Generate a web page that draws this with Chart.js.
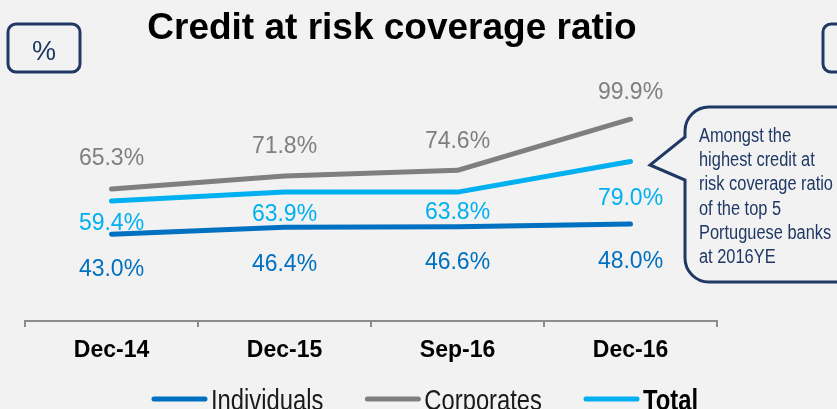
<!DOCTYPE html>
<html>
<head>
<meta charset="utf-8">
<title>Credit at risk coverage ratio</title>
<script src="https://cdn.jsdelivr.net/npm/chart.js@4.4.1/dist/chart.umd.min.js"></script>
<style>
  html, body { margin: 0; padding: 0; background: #f2f2f2; }
  #wrap { width: 837px; height: 409px; }
</style>
</head>
<body>
<div id="wrap"><canvas id="ratioChart" width="837" height="409"></canvas></div>
<script>
const periods = ['Dec-14', 'Dec-15', 'Sep-16', 'Dec-16'];
const individuals = [43.0, 46.4, 46.6, 48.0];
const corporates = [65.3, 71.8, 74.6, 99.9];
const total = [59.4, 63.9, 63.8, 79.0];
const noteLines = ['Amongst the', 'highest credit at', 'risk coverage ratio', 'of the top 5', 'Portuguese banks', 'at 2016YE'];

const NAVY = '#1f3864';
const FONT = "'Liberation Sans', Arial, sans-serif";

// how far each value label sits from its point (negative = above the line)
const labelShift = {
  Individuals: [36, 37, 36, 38],
  Corporates: [-30, -29, -29, -27],
  Total: [23, 23, 21, 37]
};

// Arial Narrow look-alike: squeeze regular text horizontally
function narrowText(ctx, text, x, y, squeeze) {
  ctx.save();
  ctx.translate(x, y);
  ctx.scale(squeeze, 1);
  ctx.fillText(text, 0, 0);
  ctx.restore();
  return ctx.measureText(text).width * squeeze;
}

function roundBox(ctx, x, y, w, h, r) {
  ctx.beginPath();
  ctx.moveTo(x + r, y);
  ctx.arcTo(x + w, y, x + w, y + h, r);
  ctx.arcTo(x + w, y + h, x, y + h, r);
  ctx.arcTo(x, y + h, x, y, r);
  ctx.arcTo(x, y, x + w, y, r);
  ctx.closePath();
  ctx.stroke();
}

const valueLabels = {
  id: 'valueLabels',
  afterDatasetsDraw(chart) {
    const ctx = chart.ctx;
    ctx.save();
    ctx.font = '23px ' + FONT;
    ctx.textAlign = 'center';
    ctx.textBaseline = 'middle';
    chart.data.datasets.forEach((ds, i) => {
      const meta = chart.getDatasetMeta(i);
      ctx.fillStyle = ds.borderColor;
      meta.data.forEach((pt, j) => {
        ctx.fillText(ds.data[j].toFixed(1) + '%', pt.x, pt.y + labelShift[ds.label][j]);
      });
    });
    ctx.restore();
  }
};

const decorations = {
  id: 'decorations',
  beforeDraw(chart) {
    const ctx = chart.ctx;
    ctx.save();
    ctx.fillStyle = '#f2f2f2';
    ctx.fillRect(0, 0, chart.width, chart.height);
    ctx.restore();
  },
  afterDraw(chart) {
    const ctx = chart.ctx;
    ctx.save();

    // title
    ctx.fillStyle = '#000';
    ctx.font = 'bold 37px ' + FONT;
    ctx.textAlign = 'center';
    ctx.textBaseline = 'alphabetic';
    ctx.fillText('Credit at risk coverage ratio', 392, 39);

    // unit box and the box cut off at the right edge
    ctx.strokeStyle = NAVY;
    ctx.lineWidth = 3;
    roundBox(ctx, 8, 24, 72, 48, 8);
    roundBox(ctx, 823, 24, 60, 48, 8);
    ctx.fillStyle = NAVY;
    ctx.font = '27px ' + FONT;
    ctx.fillText('%', 44, 60);

    // speech bubble
    const l = 685, t = 107, b = 282, r = 24, far = 870;
    ctx.beginPath();
    ctx.moveTo(l + r, t);
    ctx.lineTo(far, t);
    ctx.lineTo(far, b);
    ctx.lineTo(l + r, b);
    ctx.arcTo(l, b, l, b - r, r);
    ctx.lineTo(l, 180);
    ctx.lineTo(650, 165);
    ctx.lineTo(l, 137);
    ctx.lineTo(l, t + r);
    ctx.arcTo(l, t, l + r, t, r);
    ctx.stroke();

    ctx.font = '20px ' + FONT;
    ctx.textAlign = 'left';
    noteLines.forEach((line, i) => {
      narrowText(ctx, line, 699, 142 + i * 24.2, 0.82);
    });

    // legend, centred under the plot
    const items = chart.data.datasets.map(ds => ({
      text: ds.label,
      color: ds.borderColor,
      bold: ds.label === 'Total'
    }));
    const sq = 0.82, swatch = 55, gap = 4, spacing = 42;
    const widths = items.map(it => {
      ctx.font = (it.bold ? 'bold ' : '') + '29px ' + FONT;
      return ctx.measureText(it.text).width * sq;
    });
    let totalW = widths.reduce((a, w) => a + w + swatch + gap, 0) + spacing * (items.length - 1);
    let x = 425 - totalW / 2;
    const ly = 399;
    items.forEach((it, i) => {
      ctx.strokeStyle = it.color;
      ctx.lineWidth = 5;
      ctx.lineCap = 'round';
      ctx.beginPath();
      ctx.moveTo(x + 2, ly);
      ctx.lineTo(x + swatch - 2, ly);
      ctx.stroke();
      ctx.fillStyle = it.bold ? '#000' : '#1a1a1a';
      ctx.font = (it.bold ? 'bold ' : '') + '29px ' + FONT;
      narrowText(ctx, it.text, x + swatch + gap, 410, sq);
      x += swatch + gap + widths[i] + spacing;
    });

    ctx.restore();
  }
};

new Chart(document.getElementById('ratioChart'), {
  type: 'line',
  data: {
    labels: periods,
    datasets: [
      { label: 'Individuals', data: individuals, borderColor: '#0070c0' },
      { label: 'Corporates', data: corporates, borderColor: '#7f7f7f' },
      { label: 'Total', data: total, borderColor: '#00b0f0' }
    ]
  },
  options: {
    responsive: false,
    animation: false,
    layout: { padding: { left: 25, right: 120, top: 119, bottom: 0 } },
    datasets: { line: { clip: false } },
    elements: {
      line: { borderWidth: 5, borderCapStyle: 'round', borderJoinStyle: 'round', tension: 0 },
      point: { radius: 0, hoverRadius: 0 }
    },
    plugins: {
      legend: { display: false },
      tooltip: { enabled: false }
    },
    scales: {
      x: {
        offset: true,
        grid: { display: true, drawOnChartArea: false, drawTicks: true, tickLength: 6, color: '#8c8c8c', lineWidth: 2, offset: true },
        border: { display: true, color: '#8c8c8c', width: 2 },
        ticks: { color: '#000', font: { family: FONT, size: 23, weight: 'bold' }, padding: 10 },
        afterFit: s => { s.height = 88; }
      },
      y: { display: false, min: 0, max: 100 }
    }
  },
  plugins: [decorations, valueLabels]
});
</script>
</body>
</html>
